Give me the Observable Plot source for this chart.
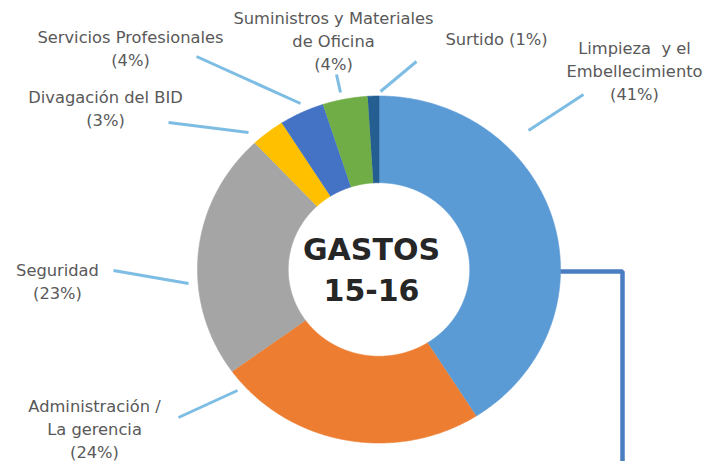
<!DOCTYPE html>
<html>
<head>
<meta charset="utf-8">
<script src="https://cdn.jsdelivr.net/npm/d3@7"></script>
<script src="https://cdn.jsdelivr.net/npm/@observablehq/plot@0.6"></script>
<style>
  html, body { margin: 0; padding: 0; background: #fff; }
  #chart { width: 709px; height: 461px; overflow: hidden; }
</style>
</head>
<body>
<div id="chart"></div>
<script>
// ---- data ----
const categories = ["Limpieza  y el Embellecimiento", "Administración / La gerencia", "Seguridad", "Divagación del BID", "Servicios Profesionales", "Suministros y Materiales de Oficina", "Surtido"];
const labelNames = ["Limpieza  y el\nEmbellecimiento", "Administración /\nLa gerencia", "Seguridad", "Divagación del BID", "Servicios Profesionales", "Suministros y Materiales\nde Oficina", "Surtido"];
const shares = [41, 24, 23, 3, 4, 4, 1];
const colors = ["#5B9BD5", "#ED7D31", "#A5A5A5", "#FFC000", "#4472C4", "#70AD47", "#255E91"];
const centerTitle = "GASTOS\n15-16";

// ---- layout (pixel placement of labels / leaders, converted to chart units) ----
const W = 709, H = 461;
const CX = 378.5, CY = 269, RX = 181.5, RY = 173.5, INNER = 0.5;
const px = (v) => (v - CX) / RX;
const py = (v) => (CY - v) / RY;
const labelPos = [[634, 69.5], [94, 427], [57, 279.5], [105, 107], [130, 46.5], [333, 39.5], [496, 37]];
const labelSep = ["\n", "\n", "\n", "\n", "\n", "\n", " "];
const leaders = [[583, 94, 528, 130], [178, 417, 237, 390], [113, 270, 188, 283], [168, 122, 248, 132], [196, 56, 300, 103], [336, 74, 340, 92], [416, 61, 380, 91]];

// ---- derived geometry ----
const total = d3.sum(shares);
const slices = [];
let acc = 0;
categories.forEach((c, i) => {
  const a0 = acc / total * 2 * Math.PI;
  acc += shares[i];
  const a1 = acc / total * 2 * Math.PI;
  const n = Math.max(4, Math.ceil((a1 - a0) / (Math.PI / 360)));
  for (let k = 0; k <= n; k++) {
    const a = a0 + (a1 - a0) * k / n;
    slices.push({cat: c, x: Math.sin(a), y: Math.cos(a)});
  }
  for (let k = n; k >= 0; k--) {
    const a = a0 + (a1 - a0) * k / n;
    slices.push({cat: c, x: INNER * Math.sin(a), y: INNER * Math.cos(a)});
  }
});

const labels = categories.map((c, i) => ({
  text: labelNames[i] + labelSep[i] + "(" + shares[i] + "%)",
  x: px(labelPos[i][0]), y: py(labelPos[i][1])
}));
const leaderRows = leaders.map(l => ({x1: px(l[0]), y1: py(l[1]), x2: px(l[2]), y2: py(l[3])}));
const connector = [{x: 1, y: py(271)}, {x: px(622), y: py(271)}, {x: px(622), y: py(475)}];

const chart = Plot.plot({
  width: W, height: H,
  margin: 0,
  style: {background: "#ffffff", fontFamily: "DejaVu Sans, sans-serif"},
  x: {domain: [px(0), px(W)], range: [0, W], axis: null},
  y: {domain: [py(H), py(0)], range: [H, 0], axis: null},
  color: {domain: categories, range: colors},
  marks: [
    Plot.line(connector, {x: "x", y: "y", stroke: "#4A7EC0", strokeWidth: 4.5, curve: "linear", strokeLinejoin: "miter"}),
    Plot.line(slices, {x: "x", y: "y", z: "cat", fill: "cat", stroke: "cat", strokeWidth: 0.6, curve: "linear"}),
    Plot.link(leaderRows, {x1: "x1", y1: "y1", x2: "x2", y2: "y2", stroke: "#7DBDE4", strokeWidth: 3}),
    Plot.text(labels, {x: "x", y: "y", text: "text", fontSize: 16.3, lineHeight: 1.4, fill: "#595959", textAnchor: "middle"}),
    Plot.text([centerTitle], {x: [px(371)], y: [py(266.5)], text: d => d, fontSize: 30, fontWeight: "bold", lineHeight: 1.37, fill: "#262626", textAnchor: "middle"})
  ]
});
document.getElementById("chart").appendChild(chart);
</script>
</body>
</html>
